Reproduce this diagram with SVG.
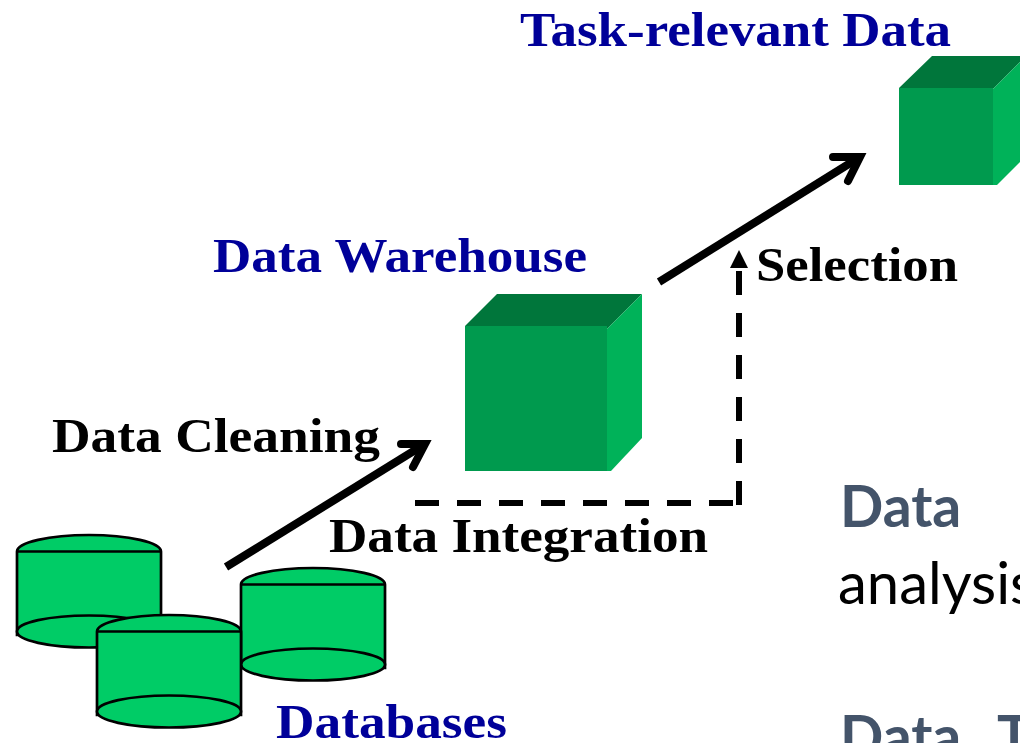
<svg xmlns="http://www.w3.org/2000/svg" width="1020" height="743" viewBox="0 0 1020 743">
<style>
.t{font-family:"Liberation Serif","Times New Roman",serif;font-weight:700;font-size:48px}
.blue{fill:#000099}
.blk{fill:#000}
.s{font-family:Lato,"Noto Sans",sans-serif}
.hd{font-weight:700;font-size:57px;fill:#44546A}
.cy{fill:#00CC66;stroke:#000;stroke-width:2.700}
.front{fill:#009A4E}.top{fill:#00763B}.side{fill:#00B259}
.arrow{fill:none;stroke:#000;stroke-width:8}
.head{fill:none;stroke:#000;stroke-width:8;stroke-linecap:round;stroke-linejoin:miter}
.dash{fill:none;stroke:#000;stroke-width:6;stroke-dasharray:24 18}
</style>
<defs>
<g id="cyl">
<path class="cy" d="M0 16.500A72 16.500 0 0 1 144 16.500V100H0Z"/>
<path class="cy" d="M0 16.500H144"/>
<ellipse class="cy" cx="72" cy="96.500" rx="72" ry="16"/>
</g>
</defs>
<rect width="1020" height="743" fill="#fff"/>
<g id="db1"><use href="#cyl" x="17" y="535"/></g>
<g id="db3"><use href="#cyl" x="241" y="568"/></g>
<g id="db2"><use href="#cyl" x="97" y="615"/></g>
<g id="databases-label"><text class="t blue" x="276" y="738" textLength="231" lengthAdjust="spacingAndGlyphs">Databases</text></g>
<g id="warehouse">
<rect class="front" x="465" y="326" width="142" height="145"/>
<polygon class="top" points="465,326 497,294 642,294 607,329 607,326"/>
<polygon class="side" points="607,329 642,294 642,438 611,471 607,471"/>
<text class="t blue" x="213" y="272" textLength="374" lengthAdjust="spacingAndGlyphs">Data Warehouse</text>
</g>
<g id="task-data">
<rect class="front" x="899" y="88" width="94" height="97"/>
<polygon class="top" points="899,88 932,56 1026,56 993,89 993,88"/>
<polygon class="side" points="993,89 1026,56 1030,152 997,185 993,185"/>
<text class="t blue" x="520" y="46" textLength="431" lengthAdjust="spacingAndGlyphs">Task-relevant Data</text>
</g>
<g id="connectors">
<path class="arrow" d="M226 567L425 444"/>
<path class="head" d="M401 444L425 444L413 467"/>
<path class="arrow" d="M659 282L860 157"/>
<path class="head" d="M833 157L860 157L848 181"/>
<path class="dash" d="M415 503H733"/>
<path class="dash" d="M739 505V271"/>
<polygon points="739,250 748,268 730,268" fill="#000"/>
</g>
<g id="edge-labels">
<text class="t blk" x="52" y="452" textLength="328" lengthAdjust="spacingAndGlyphs">Data Cleaning</text>
<text class="t blk" x="329" y="552" textLength="379" lengthAdjust="spacingAndGlyphs">Data Integration</text>
<text class="t blk" x="756" y="281" textLength="202" lengthAdjust="spacingAndGlyphs">Selection</text>
</g>
<g id="side-text">
<text class="s hd" x="840" y="527">Data</text>
<text class="s" x="838" y="604" font-size="58" fill="#000">analysis</text>
<text class="s hd" x="840" y="757">Data<tspan x="997">T</tspan></text>
</g>
</svg>
